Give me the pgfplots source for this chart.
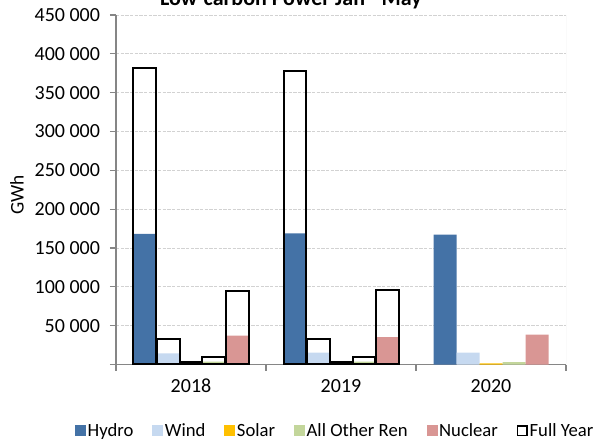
\documentclass[border=0pt]{standalone}
\usepackage{pgfplots}
\pgfplotsset{compat=1.18}
\usepackage{fontspec}
\setmainfont{Carlito}
\definecolor{hydro}{RGB}{68,114,166}
\definecolor{wind}{RGB}{198,217,240}
\definecolor{solar}{RGB}{255,192,0}
\definecolor{other}{RGB}{195,214,155}
\definecolor{nuclear}{RGB}{217,150,148}
\definecolor{axgray}{RGB}{134,134,134}
\begin{document}
\begin{tikzpicture}
\useasboundingbox (-87pt,-57.375pt) rectangle (361.5pt,273.375pt);
\begin{axis}[
  at={(0,0)}, anchor=south west,
  scale only axis, width=337.5pt, height=262.1pt,
  xmin=-0.5, xmax=2.5, ymin=0, ymax=450000,
  ybar, bar width=0.1533,
  axis lines=left, axis line style={-, axgray, line width=0.8pt},
  tick align=outside,
  scaled y ticks=false,
  ytick={0,50000,100000,150000,200000,250000,300000,350000,400000,450000},
  yticklabels={,50 000,100 000,150 000,200 000,250 000,300 000,350 000,400 000,450 000},
  xtick={0,1,2}, xticklabels={2018,2019,2020},
  minor xtick={-0.5,0.5,1.5,2.5},
  major x tick style={draw=none},
  minor x tick style={axgray, line width=0.8pt},
  y tick style={axgray, line width=0.8pt},
  major tick length=4.5pt, minor tick length=4.5pt,
  ymajorgrids, grid style={gray!35, dash pattern=on 2.5pt off 1pt, line width=0.6pt},
  tick label style={font=\fontsize{15}{17}\selectfont},
  yticklabel style={xshift=-4pt},
  xticklabel style={yshift=-3pt},
  /pgf/number format/assume math mode=true,
  ylabel={GWh}, ylabel style={font=\fontsize{14.5}{16}\selectfont, at={(rel axis cs:-0.22,0.485)}, anchor=center},
  legend columns=6,
  legend style={at={(rel axis cs:0.4867,-0.189)}, anchor=center, draw=none, fill=none,
    font=\fontsize{14}{16}\selectfont,
    /tikz/every even column/.append style={column sep=13pt},
    nodes={inner sep=1.2pt}},
  legend image code/.code={\fill[#1] (0pt,-4.1pt) rectangle (8.25pt,4.1pt);},
]
\addplot[draw=none, fill=hydro, bar shift=-0.3067] coordinates {(0,168100) (1,169000) (2,167300)};
\addlegendentry{Hydro}
\addplot[draw=none, fill=wind, bar shift=-0.1533] coordinates {(0,14400) (1,15200) (2,15200)};
\addlegendentry{Wind}
\addplot[draw=none, fill=solar, bar shift=0] coordinates {(0,1000) (1,1200) (2,1500)};
\addlegendentry{Solar}
\addplot[draw=none, fill=other, bar shift=0.1533] coordinates {(0,3600) (1,3800) (2,3200)};
\addlegendentry{All Other Ren}
\addplot[draw=none, fill=nuclear, bar shift=0.3067] coordinates {(0,37100) (1,35400) (2,38400)};
\addlegendentry{Nuclear}
\addplot[draw=black, fill=none, line width=1.5pt, bar shift=-0.3067,
  legend image code/.code={\draw[black, fill=white, line width=1.2pt] (0.6pt,-3.6pt) rectangle (7.8pt,3.6pt);}]
  coordinates {(0,382300) (1,378000)};
\addlegendentry{Full Year}
\addplot[draw=black, fill=none, line width=1.5pt, bar shift=-0.1533, forget plot] coordinates {(0,32500) (1,33200)};
\addplot[draw=black, fill=none, line width=1.5pt, bar shift=0, forget plot] coordinates {(0,3200) (1,3500)};
\addplot[draw=black, fill=none, line width=1.5pt, bar shift=0.1533, forget plot] coordinates {(0,10000) (1,10000)};
\addplot[draw=black, fill=none, line width=1.5pt, bar shift=0.3067, forget plot] coordinates {(0,94700) (1,95500)};
\draw[gray!30, line width=0.6pt] (rel axis cs:1,0) -- (rel axis cs:1,1);
\end{axis}
\node[anchor=base, font=\bfseries\fontsize{16.5}{18}\selectfont] at (131.25pt,269.6pt) {Low-carbon Power Jan - May};
\end{tikzpicture}
\end{document}
